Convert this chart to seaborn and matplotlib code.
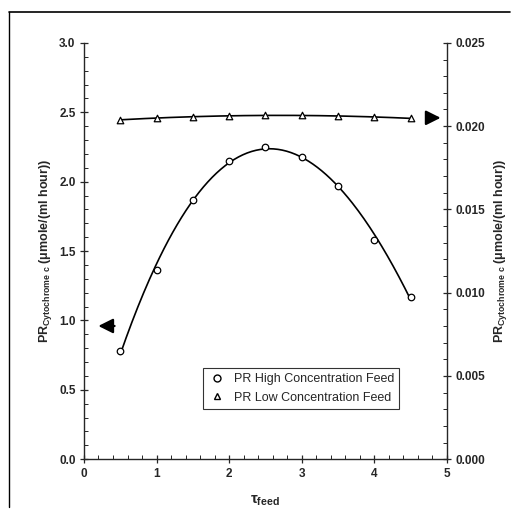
import numpy as np
import pandas as pd
import matplotlib
matplotlib.use("Agg")
import matplotlib.pyplot as plt
import seaborn as sns
from matplotlib.lines import Line2D
from matplotlib.ticker import MultipleLocator

# valores
tau_feed = [0.5, 1.0, 1.5, 2.0, 2.5, 3.0, 3.5, 4.0, 4.5]
pr_high = [0.78, 1.36, 1.87, 2.15, 2.25, 2.18, 1.97, 1.58, 1.17]
pr_low = [0.02037, 0.0205, 0.02057, 0.02062, 0.02064, 0.02064, 0.02061, 0.02055, 0.02047]
x_ticks = [0, 1, 2, 3, 4, 5]
left_ticks = [0.0, 0.5, 1.0, 1.5, 2.0, 2.5, 3.0]
right_ticks = [0.000, 0.005, 0.010, 0.015, 0.020, 0.025]

sns.set_style("ticks")
plt.rcParams["font.family"] = ["Liberation Sans", "DejaVu Sans"]
plt.rcParams["mathtext.fontset"] = "custom"
plt.rcParams["mathtext.rm"] = "Liberation Sans:bold"
plt.rcParams["mathtext.it"] = "Liberation Sans:bold"
plt.rcParams["mathtext.bf"] = "Liberation Sans:bold"

df = pd.DataFrame({"tau": tau_feed, "high": pr_high, "low": pr_low})

# curvas suavizadas (linha de tendencia)
xs = np.linspace(min(tau_feed), max(tau_feed), 200)
fit_high = np.polyval(np.polyfit(tau_feed, pr_high, 3), xs)
fit_low = np.polyval(np.polyfit(tau_feed, pr_low, 2), xs)

fig = plt.figure(figsize=(5.15, 5.23), dpi=100)
ax = fig.add_axes([0.163, 0.122, 0.705, 0.796])
ax2 = ax.twinx()

sns.lineplot(x=xs, y=fit_high, ax=ax, color="black", lw=1.2)
sns.scatterplot(data=df, x="tau", y="high", ax=ax, marker="o", s=22,
                facecolor="white", edgecolor="black", linewidth=0.9, zorder=5)
sns.lineplot(x=xs, y=fit_low, ax=ax2, color="black", lw=1.2)
sns.scatterplot(data=df, x="tau", y="low", ax=ax2, marker="^", s=22,
                facecolor="white", edgecolor="black", linewidth=0.9, zorder=5)

ax.set_xlim(0, 5)
ax.set_ylim(0, 3.0)
ax2.set_ylim(0, 0.025)
ax.set_xticks(x_ticks)
ax.set_yticks(left_ticks)
ax2.set_yticks(right_ticks)
ax.set_xticklabels([str(t) for t in x_ticks])
ax.set_yticklabels([f"{t:.1f}" for t in left_ticks])
ax2.set_yticklabels([f"{t:.3f}" for t in right_ticks])
ax.xaxis.set_minor_locator(MultipleLocator(0.2))
ax.yaxis.set_minor_locator(MultipleLocator(0.1))
ax2.yaxis.set_minor_locator(MultipleLocator(0.001))

for a in (ax, ax2):
    a.spines["top"].set_visible(False)
    for s in a.spines.values():
        s.set_linewidth(1.0)
    a.tick_params(which="major", direction="inout", length=6, width=0.9,
                  labelsize=8.5, pad=3)
    a.tick_params(which="minor", direction="in", length=3, width=0.7)
    for lab in a.get_xticklabels() + a.get_yticklabels():
        lab.set_fontweight("bold")
ax.spines["right"].set_visible(False)
ax2.spines["left"].set_visible(False)
ax2.spines["bottom"].set_visible(False)

ylab = r"PR$_{\mathregular{Cytochrome\ c}}$ ($\mathregular{\mu}$mole/(ml hour))"
ax.set_ylabel(ylab, fontsize=9, fontweight="bold", labelpad=4)
ax2.set_ylabel(ylab, fontsize=9, fontweight="bold", labelpad=5)
ax.set_xlabel(r"$\mathregular{\tau}_{\mathregular{feed}}$", fontsize=11,
              fontweight="bold", labelpad=10)

# setas indicando o eixo de cada serie
ax.annotate("", xy=(0.16, 0.96), xytext=(0.46, 0.96),
            arrowprops=dict(arrowstyle="-|>", color="black", lw=1.6, mutation_scale=22))
ax.annotate("", xy=(4.95, 2.46), xytext=(4.68, 2.46),
            arrowprops=dict(arrowstyle="-|>", color="black", lw=1.6, mutation_scale=22))

handles = [
    Line2D([], [], marker="o", ls="none", mfc="white", mec="black", ms=5),
    Line2D([], [], marker="^", ls="none", mfc="white", mec="black", ms=5),
]
leg = ax.legend(handles, ["PR High Concentration Feed", "PR Low Concentration Feed"],
                loc="upper left", bbox_to_anchor=(0.31, 0.233), fontsize=9,
                frameon=True, fancybox=False, edgecolor="black", handletextpad=0.6,
                handlelength=1.5, borderpad=0.4, labelspacing=0.5)
leg.get_frame().set_linewidth(0.8)

# moldura da figura
fig.add_artist(Line2D([0.018, 0.99], [0.977, 0.977], color="black", lw=1.2))
fig.add_artist(Line2D([0.018, 0.018], [0.977, 0.03], color="black", lw=1.0))

fig.savefig("out.png", dpi=100)
